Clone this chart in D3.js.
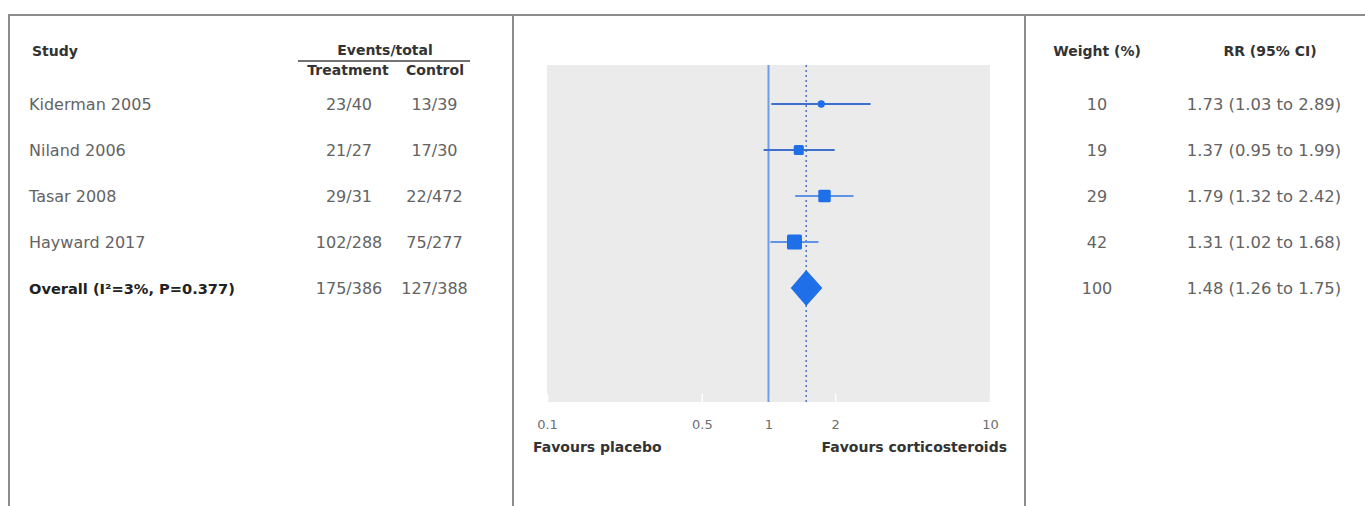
<!DOCTYPE html>
<html><head><meta charset="utf-8">
<script src="https://cdn.jsdelivr.net/npm/d3@7"></script>
<style>body{margin:0;background:#fff;}svg{display:block;}</style>
</head><body>
<svg id="chart" width="1365" height="506"></svg>
<script>
const studies = ["Kiderman 2005", "Niland 2006", "Tasar 2008", "Hayward 2017", "Overall (I²=3%, P=0.377)"];
const treatment = ["23/40", "21/27", "29/31", "102/288", "175/386"];
const control = ["13/39", "17/30", "22/472", "75/277", "127/388"];
const weights = [10, 19, 29, 42, 100];
const rr = [1.73, 1.37, 1.79, 1.31, 1.48];
const lower = [1.03, 0.95, 1.32, 1.02, 1.26];
const upper = [2.89, 1.99, 2.42, 1.68, 1.75];
const rrLabels = ["1.73 (1.03 to 2.89)", "1.37 (0.95 to 1.99)", "1.79 (1.32 to 2.42)", "1.31 (1.02 to 1.68)", "1.48 (1.26 to 1.75)"];
const tickValues = [0.1, 0.5, 1, 2, 10];
const tickLabels = ["0.1", "0.5", "1", "2", "10"];

(function () {
const svg = d3.select("#chart");
const FONT = "'DejaVu Sans', sans-serif";
const textCol = "#636363";
const headCol = "#333";

const frameCol = "#8c8c8c";
svg.append("line").attr("x1", 8).attr("x2", 1365).attr("y1", 15).attr("y2", 15).attr("stroke", frameCol).attr("stroke-width", 2);
[9, 513, 1025].forEach(x => svg.append("line").attr("x1", x).attr("x2", x).attr("y1", 14).attr("y2", 506).attr("stroke", frameCol).attr("stroke-width", 2));

const y = d3.scalePoint().domain(studies).range([104, 288]);
const x = d3.scaleLog().domain([0.1, 10]).range([547, 990]);
const size = d3.scaleSqrt().domain([0, 42]).range([0, 15]);

function txt(g, xx, yy, s, opts) {
  return g.append("text").attr("x", xx).attr("y", yy).text(s)
    .attr("font-family", FONT).attr("font-size", opts.size || 16)
    .attr("font-weight", opts.bold ? 700 : 400)
    .attr("fill", opts.fill || textCol)
    .attr("text-anchor", opts.anchor || "start");
}
txt(svg, 32, 56, "Study", {bold: true, size: 14, fill: headCol});
txt(svg, 385, 55, "Events/total", {bold: true, size: 14, fill: headCol, anchor: "middle"});
svg.append("line").attr("x1", 298).attr("x2", 470).attr("y1", 61).attr("y2", 61).attr("stroke", "#444").attr("stroke-width", 1.5);
txt(svg, 348, 75, "Treatment", {bold: true, size: 14, fill: headCol, anchor: "middle"});
txt(svg, 435, 75, "Control", {bold: true, size: 14, fill: headCol, anchor: "middle"});
txt(svg, 1097, 56, "Weight (%)", {bold: true, size: 14, fill: headCol, anchor: "middle"});
txt(svg, 1270, 56, "RR (95% CI)", {bold: true, size: 14, fill: headCol, anchor: "middle"});

studies.forEach((s, i) => {
  const yy = y(s) + 6;
  const last = i === studies.length - 1;
  txt(svg, 29, yy, s, last ? {bold: true, size: 14.6, fill: "#222"} : {size: 16});
  txt(svg, 349, yy, treatment[i], {anchor: "middle"});
  txt(svg, 434.5, yy, control[i], {anchor: "middle"});
  txt(svg, 1097, yy, String(weights[i]), {anchor: "middle"});
  txt(svg, 1264, yy, rrLabels[i], {anchor: "middle", size: 16.4});
});

const plotTop = 65, plotBottom = 402;
svg.append("rect").attr("x", x(0.1)).attr("y", plotTop).attr("width", x(10) - x(0.1)).attr("height", plotBottom - plotTop).attr("fill", "#ebebeb");

const axis = d3.axisBottom(x).tickValues(tickValues).tickFormat((d, i) => tickLabels[i]).tickSize(-8).tickSizeOuter(0);
const ag = svg.append("g").attr("transform", `translate(0,${plotBottom})`).call(axis);
ag.select(".domain").remove();
ag.selectAll(".tick line").attr("stroke", "#fff").attr("stroke-width", 1.5);
ag.selectAll(".tick text").attr("font-family", FONT).attr("font-size", 13).attr("fill", "#6e6e6e").attr("dy", "1.85em");

txt(svg, 533, 452, "Favours placebo", {bold: true, size: 14, fill: headCol});
txt(svg, 1007, 452, "Favours corticosteroids", {bold: true, size: 14, fill: headCol, anchor: "end"});

svg.append("line").attr("x1", x(1)).attr("x2", x(1)).attr("y1", plotTop).attr("y2", plotBottom).attr("stroke", "#6f9de8").attr("stroke-width", 2);
svg.append("line").attr("x1", x(rr[4])).attr("x2", x(rr[4])).attr("y1", plotTop).attr("y2", plotBottom).attr("stroke", "#4d74c4").attr("stroke-width", 1.5).attr("stroke-dasharray", "2,3");

const blue = "#1f6fe8";
studies.slice(0, 4).forEach((s, i) => {
  const yy = y(s);
  svg.append("line").attr("x1", x(lower[i])).attr("x2", x(upper[i])).attr("y1", yy).attr("y2", yy)
    .attr("stroke", i < 2 ? "#3f6fcc" : "#5f93e6").attr("stroke-width", 2);
  const sz = size(weights[i]);
  svg.append("rect").attr("x", x(rr[i]) - sz / 2).attr("y", yy - sz / 2).attr("width", sz).attr("height", sz)
    .attr("rx", i === 0 ? sz / 2 : 1.5).attr("fill", blue);
});

const yo = y(studies[4]), h = 18;
svg.append("path").attr("d", `M${x(lower[4])},${yo} L${x(rr[4])},${yo - h} L${x(upper[4])},${yo} L${x(rr[4])},${yo + h} Z`).attr("fill", blue);
})();
</script>
</body></html>
